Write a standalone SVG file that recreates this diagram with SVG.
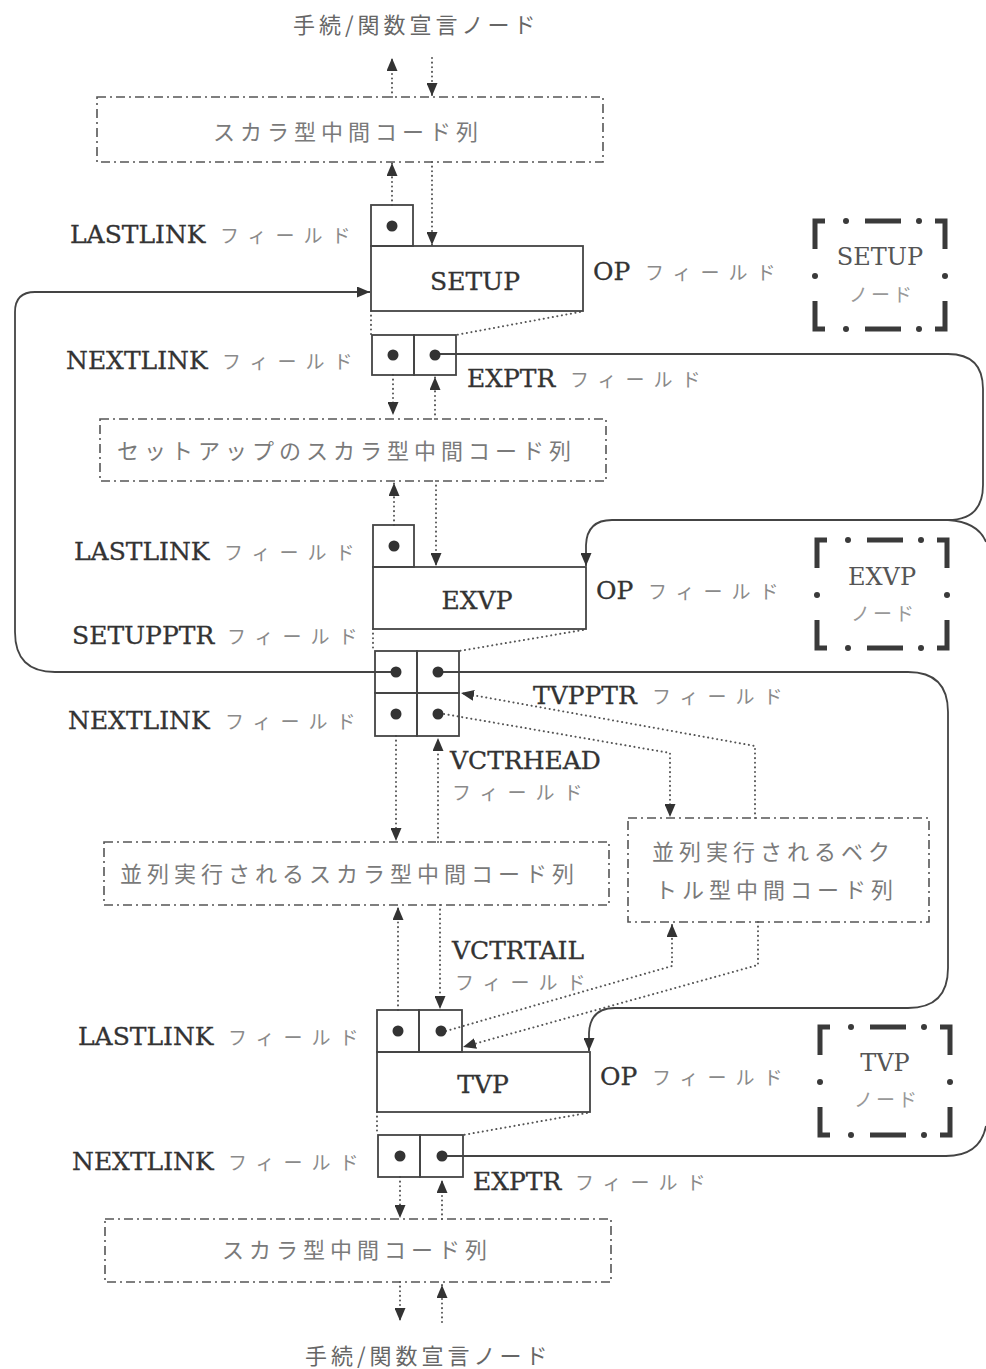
<svg xmlns="http://www.w3.org/2000/svg" width="986" height="1369" viewBox="0 0 986 1369">
<defs>
<marker id="ah" markerWidth="13" markerHeight="11" refX="13" refY="5.5" orient="auto" markerUnits="userSpaceOnUse">
<path d="M0,0 L13,5.5 L0,11 z" fill="#333"/>
</marker>
<g id="legend">
<path d="M10,0 H0 V28 M0,80 V108 H10 M120,0 H130 V28 M130,80 V108 H120 M50,0 H86 M50,108 H86" fill="none" stroke="#3a3a3a" stroke-width="5"/>
<circle cx="31" cy="0" r="3" fill="#3a3a3a"/>
<circle cx="104" cy="0" r="3" fill="#3a3a3a"/>
<circle cx="31" cy="108" r="3" fill="#3a3a3a"/>
<circle cx="104" cy="108" r="3" fill="#3a3a3a"/>
<circle cx="0" cy="55" r="3" fill="#3a3a3a"/>
<circle cx="130" cy="55" r="3" fill="#3a3a3a"/>
</g>
</defs>
<style>
.lat{font-family:"DejaVu Serif","Liberation Serif",serif;font-size:25px;fill:#333;stroke:#333;stroke-width:0.3}
.jp{font-family:"Noto Sans CJK JP",sans-serif;font-size:19px;fill:#8a8a8a;stroke:none;letter-spacing:9px}
.bx{font-family:"Noto Sans CJK JP",sans-serif;font-size:22px;fill:#7a7a7a;letter-spacing:5px}
.ttl{font-family:"Noto Sans CJK JP",sans-serif;font-size:22px;fill:#666;letter-spacing:4px}
.nd{font-family:"DejaVu Serif","Liberation Serif",serif;font-size:25px;fill:#333;stroke:#333;stroke-width:0.3;text-anchor:middle}
.lg{font-family:"DejaVu Serif","Liberation Serif",serif;font-size:24px;fill:#555;text-anchor:middle}
.lgj{font-family:"Noto Sans CJK JP",sans-serif;font-size:19px;fill:#999;text-anchor:middle;letter-spacing:3px}
.dd{fill:none;stroke:#555;stroke-width:1.6;stroke-dasharray:9 4 2 4}
.cell{fill:none;stroke:#444;stroke-width:1.8}
.rec{fill:none;stroke:#444;stroke-width:1.8}
.pt{fill:#333}
.sl{fill:none;stroke:#444;stroke-width:1.8}
.dl{fill:none;stroke:#555;stroke-width:2;stroke-dasharray:0.1 4.5;stroke-linecap:round}
</style>
<rect width="986" height="1369" fill="#fff"/>

<g id="connectors">
<path class="dl" d="M392,97 V58" marker-end="url(#ah)"/>
<path class="dl" d="M432,58 V96" marker-end="url(#ah)"/>
<path class="dl" d="M392,205 V163" marker-end="url(#ah)"/>
<path class="dl" d="M432,162 V245" marker-end="url(#ah)"/>
<path class="dl" d="M393,375 V415" marker-end="url(#ah)"/>
<path class="dl" d="M435,419 V377" marker-end="url(#ah)"/>
<path class="dl" d="M394,525 V483" marker-end="url(#ah)"/>
<path class="dl" d="M436,481 V566" marker-end="url(#ah)"/>
<path class="dl" d="M396,736 V841" marker-end="url(#ah)"/>
<path class="dl" d="M438,842 V738" marker-end="url(#ah)"/>
<path class="dl" d="M398,1010 V907" marker-end="url(#ah)"/>
<path class="dl" d="M440,905 V1009" marker-end="url(#ah)"/>
<path class="dl" d="M400,1177 V1218" marker-end="url(#ah)"/>
<path class="dl" d="M442,1219 V1180" marker-end="url(#ah)"/>
<path class="dl" d="M400,1282 V1321" marker-end="url(#ah)"/>
<path class="dl" d="M442,1322 V1285" marker-end="url(#ah)"/>
<path class="dl" d="M444,714 L670,753 V817" marker-end="url(#ah)"/>
<path class="dl" d="M755,818 V746 L461,693" marker-end="url(#ah)"/>
<path class="dl" d="M446,1031 L672,966 V924" marker-end="url(#ah)"/>
<path class="dl" d="M758,922 V965 L463,1047" marker-end="url(#ah)"/>
<path class="dl" d="M371,311 V335 M580,312 L456,335"/>
<path class="dl" d="M373,629 V651 M583,630 L459,651"/>
<path class="dl" d="M377,1112 V1135 M587,1113 L463,1135"/>
<path class="sl" d="M396,672 H55 Q15,672 15,632 V312 Q15,292 35,292 H370" marker-end="url(#ah)"/>
<path class="sl" d="M435,354 H948 Q983,354 983,389 V485 Q983,520 948,520 H612 Q587,520 586,545 V566" marker-end="url(#ah)"/>
<path class="sl" d="M948,520 Q978,522 986,542"/>
<path class="sl" d="M438,672 H908 Q948,672 948,712 V968 Q948,1008 908,1008 H615 Q590,1008 589,1033 V1051" marker-end="url(#ah)"/>
<path class="sl" d="M442,1156 H946 Q980,1156 986,1126"/>
</g>

<g id="title-top"><text class="ttl" x="293" y="33">手続/関数宣言ノード</text></g>

<g id="scalar-code-1">
<rect class="dd" x="97" y="97" width="506" height="65"/>
<text class="bx" x="213" y="140">スカラ型中間コード列</text>
</g>

<g id="setup-node">
<rect class="cell" x="371" y="205" width="42" height="41"/>
<circle class="pt" cx="392" cy="226" r="5.5"/>
<rect class="rec" x="371" y="246" width="212" height="65"/>
<text class="nd" x="475" y="290">SETUP</text>
<rect class="cell" x="372" y="335" width="42" height="40"/>
<rect class="cell" x="414" y="335" width="42" height="40"/>
<circle class="pt" cx="393" cy="355" r="5.5"/>
<circle class="pt" cx="435" cy="355" r="5.5"/>
<text class="lat" x="70" y="243">LASTLINK<tspan class="jp" x="220">フィールド</tspan></text>
<text class="lat" x="593" y="280">OP<tspan class="jp" x="645">フィールド</tspan></text>
<text class="lat" x="66" y="369">NEXTLINK<tspan class="jp" x="222">フィールド</tspan></text>
<text class="lat" x="467" y="387">EXPTR<tspan class="jp" x="570">フィールド</tspan></text>
</g>

<g id="legend-setup">
<use href="#legend" x="815" y="221"/>
<text class="lg" x="880" y="265">SETUP</text>
<text class="lgj" x="882" y="302">ノード</text>
</g>

<g id="setup-code">
<rect class="dd" x="100" y="419" width="506" height="62"/>
<text class="bx" x="117" y="459">セットアップのスカラ型中間コード列</text>
</g>

<g id="exvp-node">
<rect class="cell" x="373" y="525" width="41" height="42"/>
<circle class="pt" cx="394" cy="546" r="5.5"/>
<rect class="rec" x="373" y="567" width="213" height="62"/>
<text class="nd" x="477" y="609">EXVP</text>
<rect class="cell" x="375" y="651" width="42" height="42"/>
<rect class="cell" x="417" y="651" width="42" height="42"/>
<rect class="cell" x="375" y="693" width="42" height="43"/>
<rect class="cell" x="417" y="693" width="42" height="43"/>
<circle class="pt" cx="396" cy="672" r="5.5"/>
<circle class="pt" cx="438" cy="672" r="5.5"/>
<circle class="pt" cx="396" cy="714" r="5.5"/>
<circle class="pt" cx="438" cy="714" r="5.5"/>
<text class="lat" x="74" y="560">LASTLINK<tspan class="jp" x="224">フィールド</tspan></text>
<text class="lat" x="596" y="599">OP<tspan class="jp" x="648">フィールド</tspan></text>
<text class="lat" x="72" y="644">SETUPPTR<tspan class="jp" x="227">フィールド</tspan></text>
<text class="lat" x="68" y="729">NEXTLINK<tspan class="jp" x="225">フィールド</tspan></text>
<text class="lat" x="533" y="704">TVPPTR<tspan class="jp" x="652">フィールド</tspan></text>
<text class="lat" x="450" y="769">VCTRHEAD</text>
<text class="jp" x="452" y="800">フィールド</text>
</g>

<g id="legend-exvp">
<use href="#legend" x="817" y="540"/>
<text class="lg" x="882" y="585">EXVP</text>
<text class="lgj" x="884" y="621">ノード</text>
</g>

<g id="parallel-scalar-code">
<rect class="dd" x="104" y="842" width="505" height="63"/>
<text class="bx" x="120" y="882">並列実行されるスカラ型中間コード列</text>
</g>

<g id="parallel-vector-code">
<rect class="dd" x="628" y="818" width="301" height="104"/>
<text class="bx" x="652" y="860">並列実行されるベク</text>
<text class="bx" x="655" y="898">トル型中間コード列</text>
</g>

<g id="tvp-node">
<text class="lat" x="452" y="959">VCTRTAIL</text>
<text class="jp" x="455" y="990">フィールド</text>
<rect class="cell" x="377" y="1010" width="42" height="42"/>
<rect class="cell" x="419" y="1010" width="43" height="42"/>
<circle class="pt" cx="398" cy="1031" r="5.5"/>
<circle class="pt" cx="441" cy="1031" r="5.5"/>
<rect class="rec" x="377" y="1052" width="213" height="60"/>
<text class="nd" x="483" y="1093">TVP</text>
<rect class="cell" x="378" y="1135" width="42" height="42"/>
<rect class="cell" x="420" y="1135" width="43" height="42"/>
<circle class="pt" cx="400" cy="1156" r="5.5"/>
<circle class="pt" cx="442" cy="1156" r="5.5"/>
<text class="lat" x="78" y="1045">LASTLINK<tspan class="jp" x="228">フィールド</tspan></text>
<text class="lat" x="600" y="1085">OP<tspan class="jp" x="652">フィールド</tspan></text>
<text class="lat" x="72" y="1170">NEXTLINK<tspan class="jp" x="228">フィールド</tspan></text>
<text class="lat" x="473" y="1190">EXPTR<tspan class="jp" x="575">フィールド</tspan></text>
</g>

<g id="legend-tvp">
<use href="#legend" x="820" y="1027"/>
<text class="lg" x="885" y="1071">TVP</text>
<text class="lgj" x="887" y="1107">ノード</text>
</g>

<g id="scalar-code-2">
<rect class="dd" x="105" y="1219" width="506" height="63"/>
<text class="bx" x="222" y="1258">スカラ型中間コード列</text>
</g>

<g id="title-bottom"><text class="ttl" x="305" y="1364">手続/関数宣言ノード</text></g>
</svg>
